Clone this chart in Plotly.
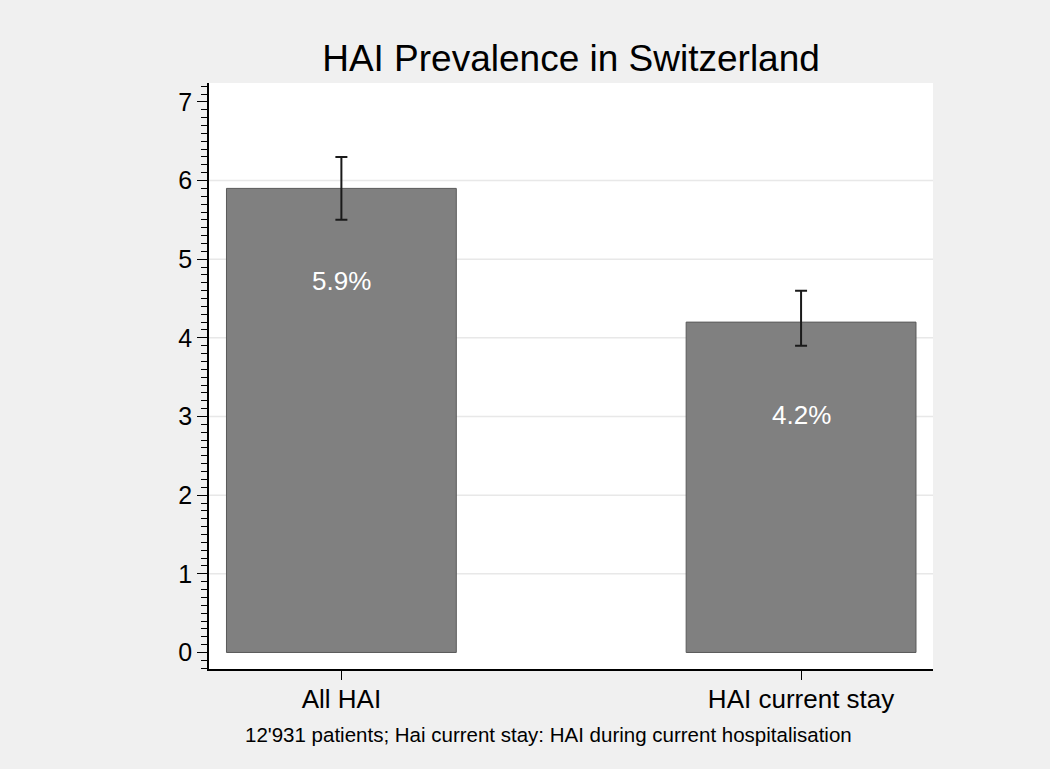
import plotly.graph_objects as go

categories = ["All HAI", "HAI current stay"]
prevalence = [5.9, 4.2]
ci_upper = [6.3, 4.6]
ci_lower = [5.5, 3.9]
value_labels = ["5.9%", "4.2%"]
y_ticks = [0, 1, 2, 3, 4, 5, 6, 7]
grid_values = [1, 2, 3, 4, 5, 6]

FONT = "Liberation Sans, Arial, sans-serif"
x_pos = list(range(len(categories)))

fig = go.Figure()
fig.add_trace(go.Bar(
    x=x_pos, y=prevalence, width=0.5,
    marker=dict(color="#808080", line=dict(color="#5a5a5a", width=1)),
    error_y=dict(type="data", symmetric=False,
                 array=[u - v for u, v in zip(ci_upper, prevalence)],
                 arrayminus=[v - l for v, l in zip(prevalence, ci_lower)],
                 color="#1a1a1a", thickness=2, width=6),
    hoverinfo="skip", showlegend=False,
))

for g in grid_values:
    fig.add_shape(type="line", xref="paper", x0=0, x1=1, yref="y", y0=g, y1=g,
                  line=dict(color="#E8E8E8", width=1.5), layer="below")

for xp, v, lab in zip(x_pos, prevalence, value_labels):
    fig.add_annotation(x=xp, y=v, text=lab, showarrow=False, yshift=-93,
                       font=dict(family=FONT, size=26, color="white"))

fig.add_annotation(xref="paper", yref="paper", x=0.047, y=-0.089, xanchor="left",
                   yanchor="top", showarrow=False,
                   text="12'931 patients; Hai current stay: HAI during current hospitalisation",
                   font=dict(family=FONT, size=20.5, color="black"))

fig.update_layout(
    width=1050, height=769,
    paper_bgcolor="#F0F0F0", plot_bgcolor="white",
    margin=dict(l=209, r=117, t=83, b=100),
    title=dict(text="HAI Prevalence in Switzerland", xref="paper", x=0.5, xanchor="center",
               y=0.925, yanchor="middle",
               font=dict(family=FONT, size=37, color="black")),
    xaxis=dict(range=[-0.288, 1.287], tickvals=x_pos, ticktext=categories,
               ticks="outside", ticklen=9, tickwidth=1.2, tickcolor="black",
               showline=True, linecolor="black", linewidth=1.5,
               showgrid=False, zeroline=False, ticklabelstandoff=-3,
               tickfont=dict(family=FONT, size=26, color="black")),
    yaxis=dict(range=[-0.21, 7.24], tickvals=y_ticks,
               ticks="outside", ticklen=10, tickwidth=1.2, tickcolor="black",
               showline=True, linecolor="black", linewidth=1.5,
               showgrid=False, zeroline=False,
               minor=dict(dtick=0.1, ticks="outside", ticklen=6, tickcolor="black",
                          tickwidth=1, showgrid=False),
               tickfont=dict(family=FONT, size=25, color="black")),
)

fig.write_html("out.html", config={"displayModeBar": False},
               post_script="document.body.style.margin='0';")
